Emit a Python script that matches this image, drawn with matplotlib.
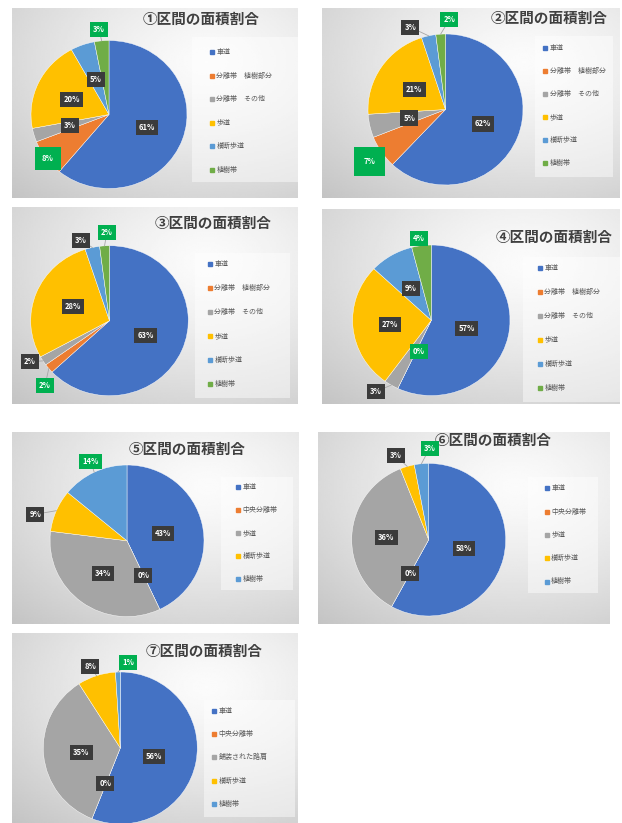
import numpy as np
import matplotlib.pyplot as plt
import matplotlib.patches as patches

plt.rcParams['font.family'] = ['Noto Sans CJK JP', 'DejaVu Sans']

# ---- データ ----
titles = ['①区間の面積割合', '②区間の面積割合', '③区間の面積割合', '④区間の面積割合',
          '⑤区間の面積割合', '⑥区間の面積割合', '⑦区間の面積割合']

cats_a = ['車道', '分離帯　植樹部分', '分離帯　その他', '歩道', '横断歩道', '植樹帯']
cats_b = ['車道', '中央分離帯', '歩道', '横断歩道', '植樹帯']
cats_c = ['車道', '中央分離帯', '舗装された路肩', '横断歩道', '植樹帯']

vals1 = [61, 8, 3, 20, 5, 3]
vals2 = [62, 7, 5, 21, 3, 2]
vals3 = [63, 2, 2, 28, 3, 2]
vals4 = [57, 0, 3, 27, 9, 4]
vals5 = [43, 0, 34, 9, 14]
vals6 = [58, 0, 36, 3, 3]
vals7 = [56, 0, 35, 8, 1]

colors_a = ['#4472C4', '#ED7D31', '#A5A5A5', '#FFC000', '#5B9BD5', '#70AD47']
colors_b = ['#4472C4', '#ED7D31', '#A5A5A5', '#FFC000', '#5B9BD5']

W, H = 622, 823
fig = plt.figure(figsize=(W / 100, H / 100), dpi=100)
fig.patch.set_facecolor('white')

# パネル配置 (ピクセル): 枠, 円の中心と半径, タイトル位置, 凡例
layout = [
    dict(frame=(12, 8, 298, 198), c=(109, 114.5), r=(78, 74), t=(201, 19),
         lbox=(192, 37, 298, 182), lx=212, ly=52, ls=23.6),
    dict(frame=(322, 8, 620, 198), c=(445.5, 109.5), r=(77.5, 75.5), t=(549, 18),
         lbox=(535, 36, 613, 177), lx=545, ly=48.3, ls=23),
    dict(frame=(12, 207, 298, 404), c=(109.5, 320.7), r=(78.8, 75), t=(213, 223),
         lbox=(195, 253, 290, 398), lx=210, ly=264.3, ls=24),
    dict(frame=(322, 209, 620, 404), c=(431.3, 320.3), r=(78.7, 75.3), t=(554, 236.5),
         lbox=(523, 257, 620, 402), lx=540, ly=267.7, ls=24),
    dict(frame=(12, 432, 299, 624), c=(127, 540.8), r=(77, 75.8), t=(187.5, 449),
         lbox=(221, 477, 293, 590), lx=238, ly=487.3, ls=23),
    dict(frame=(318, 432, 610, 624), c=(428.7, 539.7), r=(77, 76.3), t=(493, 440),
         lbox=(528, 477, 598, 593), lx=546.7, ly=488.3, ls=23.3),
    dict(frame=(12, 633, 298, 823), c=(120.3, 748), r=(77, 76), t=(204, 650.5),
         lbox=(204, 700, 295, 817), lx=214, ly=710.7, ls=23.3),
]

# ラベル位置 (半径比, 角度の補正) と強調表示
lab_r = [
    [0.52, 0.98, 0.52, 0.52, 0.50, 1.16],
    [0.52, 1.20, 0.48, 0.48, 1.18, 1.19],
    [0.50, 1.19, 1.15, 0.50, 1.13, 1.18],
    [0.46, 0.44, 1.18, 0.53, 0.49, 1.10],
    [0.48, 0.50, 0.53, 1.24, 1.15],
    [0.47, 0.50, 0.55, 1.18, 1.20],
    [0.45, 0.51, 0.51, 1.14, 1.13],
]
lab_da = [
    [0, 1, 0, 2, 0, 1],
    [0, 1, 1, 1, 10, -6],
    [0, 7, -4, 0, 6, -2],
    [-1, 4.6, -6, 0, 1, 1],
    [-1, 0, 0, 7, -1],
    [0, 0, 1, 5, -6],
    [-4, -1, 1, 2, -7],
]
lab_green = [
    [0, 1, 0, 0, 0, 1],
    [0, 1, 0, 0, 0, 1],
    [0, 1, 0, 0, 0, 1],
    [0, 1, 0, 0, 0, 1],
    [0, 0, 0, 0, 1],
    [0, 0, 0, 0, 1],
    [0, 0, 0, 0, 1],
]
big_pad = {(0, 1): 0.9, (1, 1): 1.3}

all_vals = [vals1, vals2, vals3, vals4, vals5, vals6, vals7]
all_cats = [cats_a, cats_a, cats_a, cats_a, cats_b, cats_b, cats_c]
all_cols = [colors_a, colors_a, colors_a, colors_a, colors_b, colors_b, colors_b]


def gradient(w, h):
    u = np.linspace(0, 1, 160)[None, :]
    v = np.linspace(0, 1, 120)[:, None]
    d = np.sqrt(((u - 0.68) * 1.0) ** 2 + ((v - 0.28) * 1.0) ** 2)
    return np.clip(0.985 - 0.22 * d ** 1.3, 0.76, 0.985)


L = 1.5
for i, lay in enumerate(layout):
    x0, y0, x1, y1 = lay['frame']
    # 背景
    bg = fig.add_axes([x0 / W, 1 - y1 / H, (x1 - x0) / W, (y1 - y0) / H])
    bg.imshow(gradient(x1 - x0, y1 - y0), cmap='gray', vmin=0, vmax=1,
              extent=(x0, x1, y1, y0), aspect='auto', interpolation='bilinear')
    bg.set_xlim(x0, x1)
    bg.set_ylim(y1, y0)
    bg.axis('off')

    # タイトル
    bg.text(lay['t'][0], lay['t'][1], titles[i], ha='center', va='center',
            fontsize=10.5, fontweight='bold', color='#404040')

    # 凡例
    bx0, by0, bx1, by1 = lay['lbox']
    bg.add_patch(patches.Rectangle((bx0, by0), bx1 - bx0, by1 - by0,
                                   facecolor='white', alpha=0.45, edgecolor='none'))
    for k, (name, col) in enumerate(zip(all_cats[i], all_cols[i])):
        yy = lay['ly'] + k * lay['ls']
        bg.plot(lay['lx'], yy, marker='s', markersize=2.6, color=col, linestyle='none')
        bg.text(lay['lx'] + 4.5, yy, name, ha='left', va='center',
                fontsize=5, color='#595959')

    # 円グラフ
    cx, cy = lay['c']
    rx, ry = lay['r']
    ax = fig.add_axes([(cx - rx * L) / W, 1 - (cy + ry * L) / H,
                       2 * rx * L / W, 2 * ry * L / H])
    wedges, _ = ax.pie(all_vals[i], colors=all_cols[i], startangle=90,
                       counterclock=False, radius=1,
                       wedgeprops=dict(linewidth=0.3, edgecolor='white'))
    ax.set_xlim(-L, L)
    ax.set_ylim(-L, L)
    ax.set_aspect('auto')
    ax.axis('off')

    for k, (w, v) in enumerate(zip(wedges, all_vals[i])):
        mid = np.deg2rad((w.theta1 + w.theta2) / 2 + lab_da[i][k])
        r = lab_r[i][k]
        tx, ty = r * np.cos(mid), r * np.sin(mid)
        if r > 1.05:
            m0 = np.deg2rad((w.theta1 + w.theta2) / 2)
            ax.plot([np.cos(m0), tx], [np.sin(m0), ty], color='#a6a6a6',
                    lw=0.6, zorder=3)
        green = lab_green[i][k]
        pad = big_pad.get((i, k), 0.4)
        ax.text(tx, ty, f'{v}%', ha='center', va='center', fontsize=5.5,
                fontweight='bold', color='white', zorder=4,
                bbox=dict(boxstyle=f'square,pad={pad}',
                          facecolor='#00B050' if green else '#3b3b3b',
                          edgecolor='none'))

fig.savefig('out.png', dpi=100, facecolor='white')
